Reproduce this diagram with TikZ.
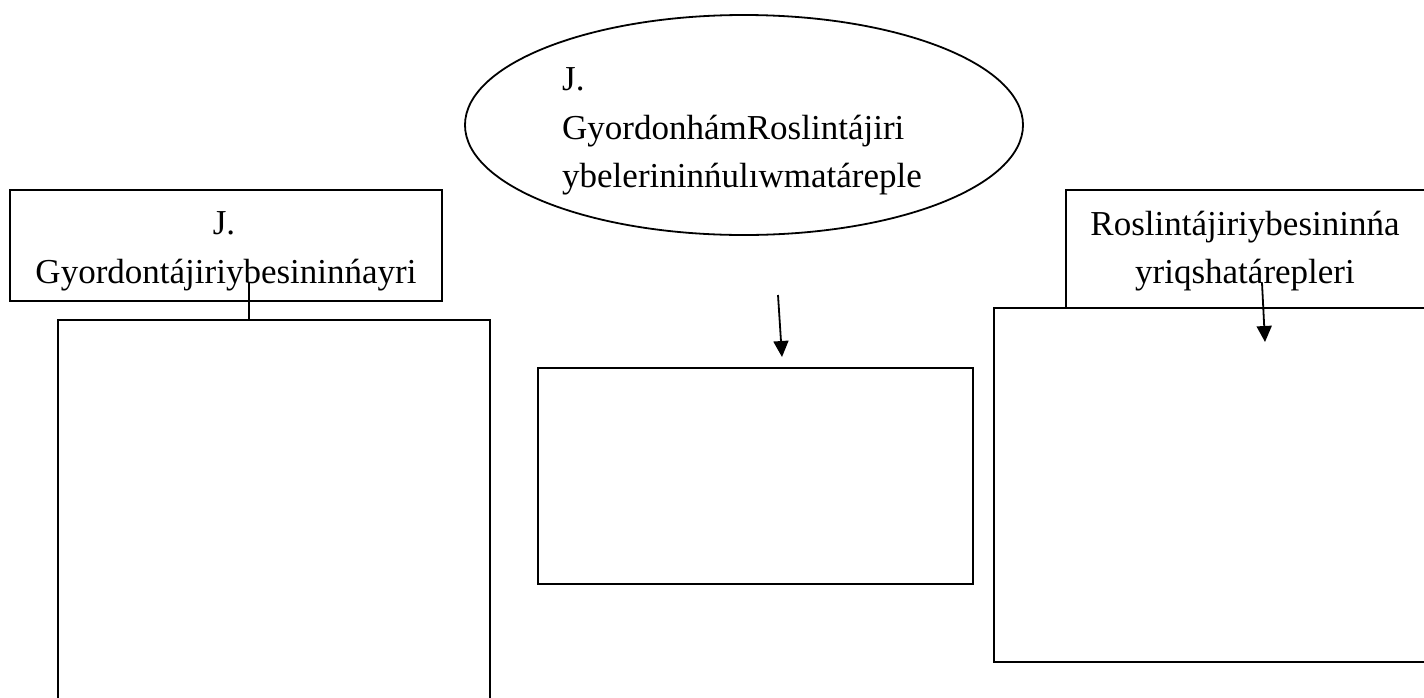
\documentclass[tikz,border=0pt]{standalone}
\usepackage{fontspec}
\setmainfont{Liberation Serif}
\usetikzlibrary{arrows.meta,shapes.geometric}
\begin{document}
\begin{tikzpicture}[x=1pt,y=-1pt,
  box/.style={draw,line width=1.8pt,inner sep=0pt},
  oval/.style={draw,ellipse,line width=1.8pt,inner sep=0pt},
  lbl/.style={font=\fontsize{35}{49}\selectfont,inner sep=0pt},
  conn/.style={line width=1.8pt},
  arr/.style={conn,-{Triangle[width=15pt,length=16pt]}}]
\useasboundingbox (0,0) rectangle (1424,697);
% boxes
\node[box,minimum width=432pt,minimum height=111pt] (lhead) at (226,245.5) {};
\node[box,minimum width=432pt,minimum height=380pt] (lbig) at (274,510) {};
\node[box,minimum width=435pt,minimum height=216pt] (mbox) at (755.5,476) {};
\node[box,minimum width=364pt,minimum height=118pt] (rhead) at (1248,249) {};
\node[box,minimum width=436pt,minimum height=354pt] (rbig) at (1212,485) {};
\node[oval,minimum width=558pt,minimum height=220pt] (oval) at (744,125) {};
% texts
\node[lbl,anchor=base] (lt1) at (224,234) {J.};
\node[lbl,anchor=base] (lt2) at (226,283) {Gyordontájiriybesininńayri};
\node[lbl,anchor=base west] (et1) at (562,90) {J.};
\node[lbl,anchor=base west] (et2) at (562,139) {GyordonhámRoslintájiri};
\node[lbl,anchor=base west] (et3) at (562,187) {ybelerininńulıwmatáreple};
\node[lbl,anchor=base] (rt1) at (1245,235) {Roslintájiriybesininńa};
\node[lbl,anchor=base] (rt2) at (1245,283) {yriqshatárepleri};
% connectors
\coordinate (lc) at (249,282);
\draw[conn] (lc) -- (lc |- lbig.north);
\coordinate (ma) at (778,295);
\coordinate (mb) at (782,357);
\draw[arr] (ma) -- (mb);
\coordinate (ra) at (1262,283);
\coordinate (rb) at (1265,342);
\draw[arr] (ra) -- (rb);
\end{tikzpicture}
\end{document}
